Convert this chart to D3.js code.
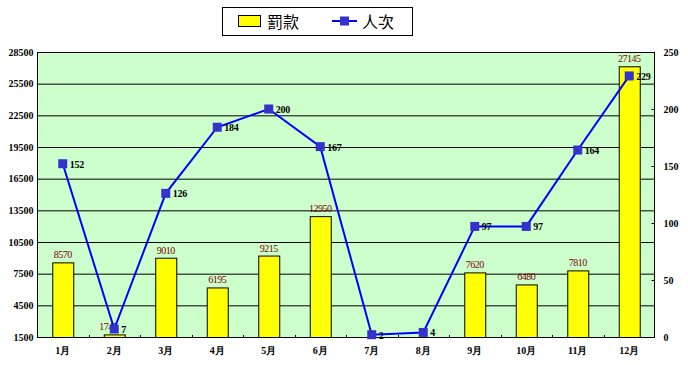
<!DOCTYPE html>
<html><head><meta charset="utf-8">
<script src="https://cdn.jsdelivr.net/npm/d3@7"></script>
<style>body{margin:0;background:#fff}svg{display:block}</style>
</head><body>
<svg id="c" width="688" height="365"></svg>
<script>
const months = ["1月","2月","3月","4月","5月","6月","7月","8月","9月","10月","11月","12月"];
const fines = [8570,1745,9010,6195,9215,12950,null,null,7620,6480,7810,27145];
const persons = [152,7,126,184,200,167,2,4,97,97,164,229];
const leftTicks = [1500,4500,7500,10500,13500,16500,19500,22500,25500,28500];
const rightTicks = [0,50,100,150,200,250];
const seriesNames = ["罰款","人次"];

const svg = d3.select("#c");
const L=37,R=655,T=52,B=337;
const x = d3.scaleBand().domain(months).range([L,R]);
const yL = d3.scaleLinear().domain([1500,28500]).range([B,T]);
const yR = d3.scaleLinear().domain([0,250]).range([B,T]);
const serif = "'Liberation Serif','Times New Roman',serif";
const cx = m => x(m)+x.bandwidth()/2;

svg.append("rect").attr("x",L).attr("y",T).attr("width",R-L).attr("height",B-T).attr("fill","#CCFFCC");
svg.append("g").selectAll("line").data(leftTicks.slice(1,-1)).join("line")
  .attr("x1",L).attr("x2",R).attr("y1",d=>yL(d)+0.5).attr("y2",d=>yL(d)+0.5)
  .attr("stroke","#000").attr("stroke-width",1);

const barData = months.map((m,i)=>({m,v:fines[i],p:persons[i]})).filter(d=>d.v!=null);
const bw = 21;
svg.append("g").selectAll("rect").data(barData).join("rect")
  .attr("x",d=>cx(d.m)-bw/2+0.5).attr("width",bw)
  .attr("y",d=>yL(d.v)+0.5).attr("height",d=>B-yL(d.v))
  .attr("fill","#FFFF00").attr("stroke","#000").attr("stroke-width",1);
// bar labels; if the line's marker sits on the label, slide label left
svg.append("g").selectAll("text").data(barData).join("text")
  .each(function(d){
    const ly = yL(d.v)-4, collide = Math.abs(yR(d.p)-ly) < 10;
    d3.select(this).attr("x", collide ? cx(d.m)+3 : cx(d.m)).attr("y",ly)
      .attr("text-anchor", collide ? "end" : "middle");
  })
  .attr("font-family",serif).attr("font-size",10)
  .attr("fill","#800000").attr("letter-spacing","-0.5").text(d=>d.v);

svg.append("rect").attr("x",L+0.5).attr("y",T+0.5).attr("width",R-L-1).attr("height",B-T).attr("fill","none").attr("stroke","#000");

const axL = svg.append("g").attr("transform",`translate(${L+0.5},0)`)
  .call(d3.axisLeft(yL).tickValues(leftTicks).tickSize(0).tickPadding(4).tickFormat(d3.format("d")));
const axR = svg.append("g").attr("transform",`translate(${R-0.5},0)`)
  .call(d3.axisRight(yR).tickValues(rightTicks).tickSizeInner(-3).tickSizeOuter(0).tickPadding(9));
const axB = svg.append("g").attr("transform",`translate(0,${B+0.5})`)
  .call(d3.axisBottom(x).tickSize(0).tickPadding(9));
[axL,axR,axB].forEach(a=>{
  a.select(".domain").remove();
  a.selectAll("text").attr("font-family",serif).attr("font-weight","bold").attr("font-size",10).attr("fill","#000");
  a.selectAll("line").attr("stroke","#000");
});
svg.append("g").selectAll("line").data(months.slice(1)).join("line")
  .attr("x1",d=>Math.round(x(d))+0.5).attr("x2",d=>Math.round(x(d))+0.5).attr("y1",B-2).attr("y2",B)
  .attr("stroke","#000");

const line = d3.line().x((d,i)=>cx(months[i])).y(d=>yR(d));
svg.append("path").datum(persons).attr("d",line).attr("fill","none").attr("stroke","#0000FF").attr("stroke-width",2);
svg.append("g").selectAll("rect").data(persons).join("rect")
  .attr("x",(d,i)=>cx(months[i])-4.5).attr("y",d=>yR(d)-4.5)
  .attr("width",9).attr("height",9).attr("fill","#3333CC");
svg.append("g").selectAll("text").data(persons).join("text")
  .attr("x",(d,i)=>cx(months[i])+7).attr("y",d=>yR(d)+4)
  .attr("font-family",serif).attr("font-weight","bold").attr("font-size",10).attr("fill","#000")
  .attr("letter-spacing","-0.3").text(d=>d);

const lg = svg.append("g");
lg.append("rect").attr("x",222.5).attr("y",7.5).attr("width",190).attr("height",28).attr("fill","#fff").attr("stroke","#000");
lg.append("rect").attr("x",238.5).attr("y",15.5).attr("width",22).attr("height",11).attr("fill","#FFFF00").attr("stroke","#000");
lg.append("text").attr("x",267).attr("y",28).attr("font-family","'Noto Sans CJK TC','Noto Sans CJK SC',sans-serif").attr("font-size",16).text(seriesNames[0]);
lg.append("line").attr("x1",332).attr("x2",357).attr("y1",21).attr("y2",21).attr("stroke","#0000FF").attr("stroke-width",2);
lg.append("rect").attr("x",340).attr("y",16.5).attr("width",9).attr("height",9).attr("fill","#3333CC");
lg.append("text").attr("x",362).attr("y",28).attr("font-family","'Noto Sans CJK TC','Noto Sans CJK SC',sans-serif").attr("font-size",16).text(seriesNames[1]);
</script>
</body></html>
